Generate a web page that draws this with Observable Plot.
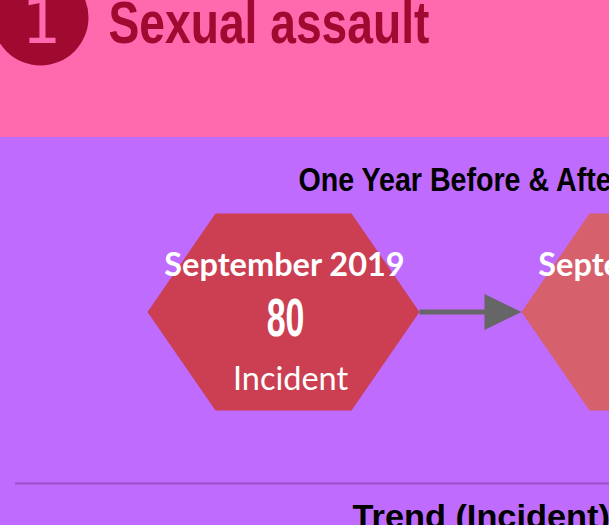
<!DOCTYPE html>
<html>
<head>
<meta charset="utf-8">
<script src="https://cdn.jsdelivr.net/npm/d3@7"></script>
<script src="https://cdn.jsdelivr.net/npm/@observablehq/plot@0.6"></script>
<style>
  html, body { margin: 0; padding: 0; background: #BE6BFE; overflow: hidden; }
  svg { display: block; }
</style>
</head>
<body>
<div id="chart"></div>
<script>
// ---- data ----
const sectionNumber = "1";
const sectionTitle = "Sexual assault";
const comparisonHeading = "One Year Before & After";
const trendHeading = "Trend (Incident)";
const periods = ["September 2019", "September 2020"];
const incidents = [80, 52];
const unitLabel = "Incident";
const hexColors = ["#CC3F53", "#D6606B"];

// ---- layout (pixels) ----
const W = 609, H = 525;
const bandSplit = 137;
const hexCx0 = 283, hexStep = 374, hexCy = 311.5, hexHW = 136, hexHH = 98.5;

const bands = [
  {y1: 0, y2: bandSplit, fill: "#FF69AE"},
  {y1: bandSplit, y2: H, fill: "#BE6BFE"}
];

function hexPoints(i) {
  const cx = hexCx0 + i * hexStep, cy = hexCy;
  return [
    [cx - hexHW, cy], [cx - hexHW / 2, cy - hexHH], [cx + hexHW / 2, cy - hexHH],
    [cx + hexHW, cy], [cx + hexHW / 2, cy + hexHH], [cx - hexHW / 2, cy + hexHH],
    [cx - hexHW, cy]
  ].map(([x, y]) => ({x, y}));
}

const hexItems = periods.map((p, i) => ({
  period: p, value: incidents[i], cx: hexCx0 + i * hexStep
}));

const arrowX1 = hexCx0 + hexHW, arrowX2 = hexCx0 + hexStep - hexHW;
const headLen = 37, headHalf = 18;
const arrowHead = [
  {x: arrowX2 - headLen, y: hexCy - headHalf},
  {x: arrowX2, y: hexCy},
  {x: arrowX2 - headLen, y: hexCy + headHalf}
];

const narrow = "'Liberation Sans', Arial, sans-serif";
const body = "Lato, 'Open Sans', sans-serif";

// horizontal squeeze used to imitate condensed faces
const squeeze = new Map([
  [sectionTitle, 0.77],
  [comparisonHeading, 0.88],
  [trendHeading, 1.04],
  ...incidents.map(v => [String(v), 0.64])
]);

const chart = Plot.plot({
  width: W, height: H,
  margin: 0,
  x: {domain: [0, W], range: [0, W], axis: null},
  y: {domain: [0, H], range: [0, H], axis: null},
  marks: [
    Plot.rect(bands, {x1: 0, x2: W, y1: "y1", y2: "y2", fill: "fill"}),
    // section header
    Plot.dot([sectionNumber], {x: 40, y: 17, r: 48, fill: "#A00A30", stroke: null}),
    Plot.text([sectionNumber], {x: 41, y: 42, text: d => d, fill: "#FF69AE",
      fontSize: 62, fontFamily: "'DejaVu Sans', sans-serif", textAnchor: "middle", lineAnchor: "bottom"}),
    Plot.text([sectionTitle], {x: 108, y: 42, text: d => d, fill: "#A00A30",
      fontSize: 60, fontWeight: "bold", fontFamily: narrow, textAnchor: "start", lineAnchor: "bottom"}),
    // heading
    Plot.text([comparisonHeading], {x: 298, y: 190, text: d => d, fill: "#000",
      fontSize: 32.5, fontWeight: "bold", fontFamily: narrow, textAnchor: "start", lineAnchor: "bottom"}),
    // hexagons
    ...periods.map((p, i) => Plot.line(hexPoints(i), {x: "x", y: "y", fill: hexColors[i], stroke: "none"})),
    // arrow
    Plot.link([0], {x1: arrowX1, x2: arrowX2 - headLen + 1, y1: hexCy, y2: hexCy, stroke: "#666666", strokeWidth: 5}),
    Plot.line(arrowHead, {x: "x", y: "y", fill: "#666666", stroke: "none"}),
    // hex texts
    Plot.text(hexItems, {x: d => d.cx + 1, y: 275, text: "period", fill: "white",
      fontSize: 32.5, fontWeight: "bold", fontFamily: body, textAnchor: "middle", lineAnchor: "bottom"}),
    Plot.text(hexItems, {x: d => d.cx + 2, y: 335, text: d => String(d.value), fill: "white",
      fontSize: 53, fontWeight: "bold", fontFamily: narrow, textAnchor: "middle", lineAnchor: "bottom"}),
    Plot.text(hexItems, {x: d => d.cx + 7, y: 389, text: () => unitLabel, fill: "white",
      fontSize: 32.5, fontFamily: body, textAnchor: "middle", lineAnchor: "bottom"}),
    // divider
    Plot.ruleY([483], {x1: 15, x2: W, stroke: "#9A50C8", strokeWidth: 2}),
    Plot.text([trendHeading], {x: 352, y: 527, text: d => d, fill: "#000",
      fontSize: 33, fontWeight: "bold", fontFamily: narrow, textAnchor: "start", lineAnchor: "bottom"})
  ]
});
document.getElementById("chart").appendChild(chart);

chart.querySelectorAll("text").forEach(t => {
  const s = squeeze.get(t.textContent);
  if (s == null || s === 1) return;
  let tr = t.getAttribute("transform");
  if (!tr) {
    const x = +t.getAttribute("x") || 0, y = +t.getAttribute("y") || 0;
    t.removeAttribute("x"); t.removeAttribute("y");
    tr = `translate(${x},${y})`;
  }
  t.setAttribute("transform", `${tr} scale(${s},1)`);
});
</script>
</body>
</html>
